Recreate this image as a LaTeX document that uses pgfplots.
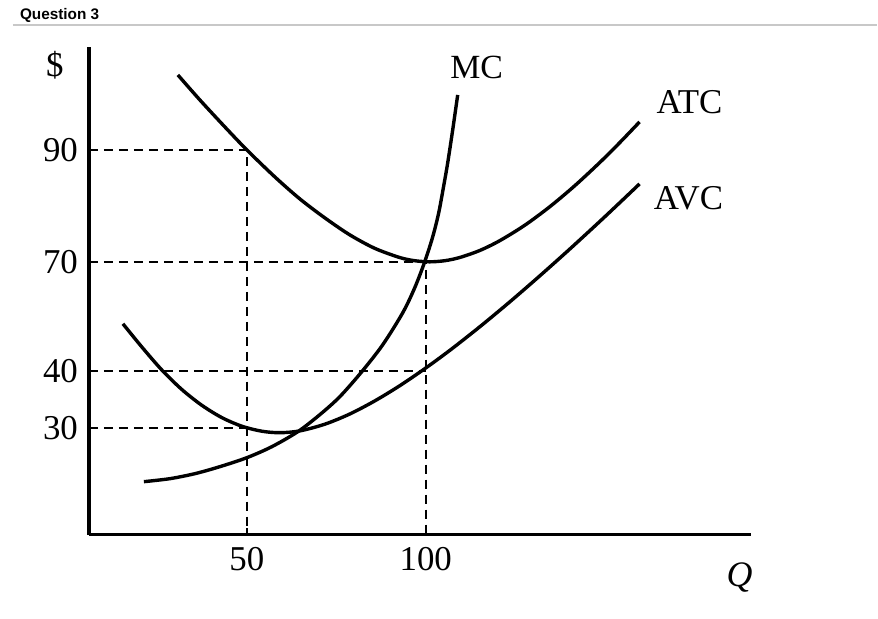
\documentclass[border=0pt]{standalone}
\usepackage{pgfplots}
\pgfplotsset{compat=1.18}
\usepackage{fontspec}
\setmainfont{Liberation Serif}
\newfontfamily\hfont{Liberation Sans}
\definecolor{hdrline}{RGB}{200,200,200}
\begin{document}
\begin{tikzpicture}
\begin{axis}[
  scale only axis,
  width=331.5bp, height=244bp,
  xmin=89, xmax=752, ymin=84, ymax=572,
  axis x line=bottom, axis y line=left,
  axis line style={line width=1.6bp, -},
  clip=false,
  xtick={247,426}, xticklabels={50,100},
  ytick={469,357,248,191}, yticklabels={90,70,40,30},
  tick align=inside,
  x tick style={line width=1bp, black},
  y tick style={draw=none},
  major tick length=3.5bp,
  ticklabel style={font=\fontsize{17.5}{20}\selectfont},
  /pgf/number format/assume math mode=true,
  yticklabel style={anchor=east, xshift=-2bp},
  xticklabel style={anchor=north, yshift=-3bp},
]
% bounding box of the whole picture
\path (axis cs:0,0) rectangle (axis cs:878,619);
% header
\node[anchor=base west, font=\hfont\bfseries\fontsize{7.7}{8}\selectfont] at (axis cs:13,599) {Question 3};
\draw[hdrline, line width=0.6bp] (axis cs:13,594) -- (axis cs:878,594);
% dashed guides
\addplot[black, line width=1bp, dash pattern=on 4.5bp off 3bp] coordinates {(89,469) (247,469) (247,84)};
\addplot[black, line width=1bp, dash pattern=on 4.5bp off 3bp] coordinates {(89,357) (426,357) (426,84)};
\addplot[black, line width=1bp, dash pattern=on 4.5bp off 3bp] coordinates {(89,248) (426,248)};
\addplot[black, line width=1bp, dash pattern=on 4.5bp off 3bp] coordinates {(89,191) (247,191)};
% ATC
\addplot[black, line width=1.7bp, smooth] coordinates {
 (178,544) (200,519) (225,492) (247,469) (275,442) (300,420) (325,401) (350,384)
 (375,370.5) (400,361.3) (415,358.1) (430,357) (445,358.1) (460,361.3) (480,368.3)
 (500,378.1) (525,393.5) (550,412) (575,433) (600,456.2) (620,476.1) (640,497)};
% AVC
\addplot[black, line width=1.7bp, smooth] coordinates {
 (123,295) (142,271.7) (162,248.7) (182,229.2) (202,213.4) (222,201.1) (242,192.5)
 (262,187.5) (280,186) (300,187.8) (325,194.5) (350,204.7) (375,217.8) (400,233)
 (425,250) (450,268.3) (480,291.9) (510,316.8) (540,342.8) (570,369.6) (600,397.2)
 (620,416) (640,435)};
% MC
\addplot[black, line width=1.7bp, smooth] coordinates {
 (144,137) (170,140) (195,145) (220,152) (247,161) (272,172) (298,187) (320,204)
 (340,222) (362,247) (383,274) (403,306) (415,331) (425,357) (433,382) (439,406)
 (444,433) (448,456) (453,489) (458,524)};
% labels
\node[font=\fontsize{17.5}{20}\selectfont] at (axis cs:55,554) {\$};
\node[font=\fontsize{17}{20}\selectfont] at (axis cs:477,551) {MC};
\node[font=\fontsize{17.5}{20}\selectfont] at (axis cs:690,517) {ATC};
\node[font=\fontsize{17.5}{20}\selectfont] at (axis cs:689,421) {AVC};
\node[font=\fontsize{18}{20}\selectfont] at (axis cs:740,41) {\textit{Q}};
\end{axis}
\end{tikzpicture}
\end{document}
